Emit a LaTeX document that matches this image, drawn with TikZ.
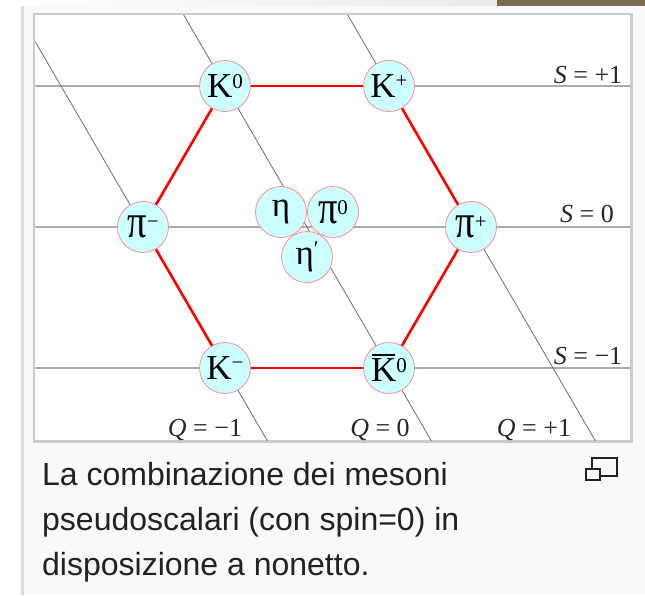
\documentclass[tikz,border=0pt]{standalone}
\usepackage{fontspec}
\usepackage{graphicx}
\setmainfont{Liberation Serif}
\newfontfamily\capfont{Liberation Sans}
\usetikzlibrary{calc}
\definecolor{cyanfill}{RGB}{204,255,255}
\definecolor{pinkline}{RGB}{255,140,140}
\definecolor{hexred}{RGB}{255,0,0}
\definecolor{gridgray}{RGB}{170,170,170}
\definecolor{qgray}{RGB}{120,120,120}
\definecolor{framegray}{RGB}{200,204,209}
\definecolor{boxbg}{RGB}{248,249,250}
\definecolor{brownbar}{RGB}{122,108,82}
\definecolor{captext}{RGB}{34,34,34}
\newcommand\mysup[1]{\raisebox{9.5pt}{\fontsize{21}{21}\selectfont #1}}
\newcommand\mypi{\scalebox{1.1}[1.35]{π}}
\newcommand\barK{\makebox[0pt][l]{\hspace{0.03em}\rule[25.5pt]{0.66em}{1.6pt}}K}
\begin{document}
\begin{tikzpicture}[x=1pt,y=-1pt,
  particle/.style={circle, minimum size=51pt, inner sep=0pt, fill=cyanfill, draw=pinkline, line width=0.8pt, font=\fontsize{35}{35}\selectfont},
  hexedge/.style={hexred, line width=2.6pt},
  sline/.style={gridgray, line width=1.4pt},
  qline/.style={qgray, line width=0.9pt},
  lab/.style={font=\fontsize{26}{26}\selectfont, inner sep=0pt, text=black!85, anchor=base},
  captionline/.style={font=\capfont\fontsize{32}{38}\selectfont, text=captext, anchor=base west, inner sep=0pt}
]
\useasboundingbox (0,0) rectangle (645,595);
\fill[white] (0,0) rectangle (645,595);
\shade[left color=white, right color=black!8] (0,0) rectangle (497,6);
\fill[brownbar] (497,0) rectangle (645,6);
\fill[boxbg] (20,6) rectangle (645,595);
\fill[black!13] (20.5,6) rectangle (24,595);
\filldraw[fill=white, draw=framegray, line width=2.5pt] (34,14) rectangle (631.5,441.5);

% particle positions
\coordinate (cK0) at (225,86);
\coordinate (cKp) at (389,86);
\coordinate (cPim) at (143,227);
\coordinate (cPip) at (471,227);
\coordinate (cKm) at (225,368);
\coordinate (cKb) at (389,368);
\coordinate (cEta) at (281,212);
\coordinate (cPi0) at (333,212);
\coordinate (cEtap) at (307,257);

\begin{scope}
\clip (35.25,15.25) rectangle (630.25,440.25);
% S lines
\draw[sline] (34,86) -- (632,86);
\draw[sline] (34,227) -- (632,227);
\draw[sline] (34,368) -- (632,368);
% Q lines
\draw[qline] ($(cPim)!-2!(cKm)$) -- ($(cKm)!-2!(cPim)$);
\draw[qline] ($(cK0)!-2!(cKb)$) -- ($(cKb)!-2!(cK0)$);
\draw[qline] ($(cKp)!-3!(cPip)$) -- ($(cPip)!-3!(cKp)$);
\end{scope}

% particles
\node[particle] (K0) at (cK0) {K\mysup{0}};
\node[particle] (Kp) at (cKp) {K\mysup{+}};
\node[particle] (Pim) at (cPim) {\mypi\mysup{−}};
\node[particle] (Pip) at (cPip) {\mypi\mysup{+}};
\node[particle] (Km) at (cKm) {K\mysup{−}};
\node[particle] (Kb) at (cKb) {\barK\mysup{0}};
\node[particle] (Eta) at (cEta) {η};
\node[particle] (Pi0) at (cPi0) {\mypi\mysup{0}};
\node[particle] (Etap) at (cEtap) {η\mysup{′}};

% hexagon
\draw[hexedge] (K0) -- (Kp);
\draw[hexedge] (Kp) -- (Pip);
\draw[hexedge] (Pip) -- (Kb);
\draw[hexedge] (Kb) -- (Km);
\draw[hexedge] (Km) -- (Pim);
\draw[hexedge] (Pim) -- (K0);

% labels
\node[lab] (Sp1) at (588,83) {\textit{S} = +1};
\node[lab] (S0) at (587,222) {\textit{S} = 0};
\node[lab] (Sm1) at (588,364) {\textit{S} = −1};
\node[lab] (Qm1) at (205,436) {\textit{Q} = −1};
\node[lab] (Q0) at (380,436) {\textit{Q} = 0};
\node[lab] (Qp1) at (534,436) {\textit{Q} = +1};

% caption
\node[captionline] (cap1) at (42,485) {La combinazione dei mesoni};
\node[captionline] (cap2) at (42,530) {pseudoscalari (con spin=0) in};
\node[captionline] (cap3) at (42,575) {disposizione a nonetto.};

% enlarge icon
\draw[captext, line width=2pt] (592,458) rectangle (617,476);
\filldraw[fill=boxbg, draw=captext, line width=2pt] (586,469) rectangle (600,480);
\end{tikzpicture}
\end{document}
